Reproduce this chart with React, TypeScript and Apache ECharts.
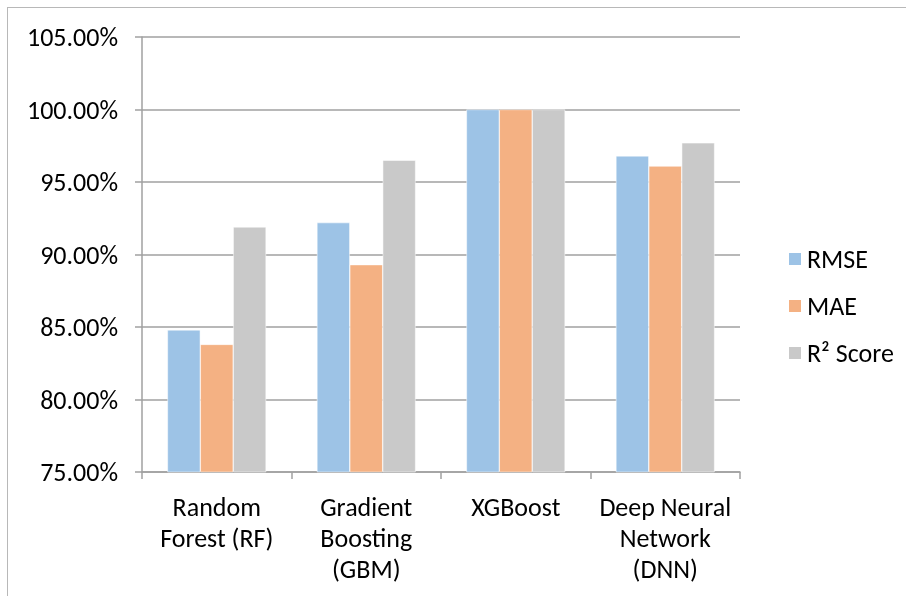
import React, { useEffect, useRef } from "react";
import * as echarts from "echarts";

const categories = ["Random\nForest (RF)", "Gradient\nBoosting\n(GBM)", "XGBoost", "Deep Neural\nNetwork\n(DNN)"];
const seriesNames = ["RMSE", "MAE", "R² Score"];
const rmse = [84.8, 92.2, 100.0, 96.8];
const mae = [83.8, 89.3, 100.0, 96.1];
const r2 = [91.9, 96.5, 100.0, 97.7];
const colors = ["#9dc3e6", "#f4b183", "#c9c9c9"];

const FONT = "Carlito, 'Liberation Sans Narrow', 'Open Sans', 'Noto Sans', sans-serif";

export default function App() {
  const ref = useRef<HTMLDivElement>(null);
  useEffect(() => {
    if (!ref.current) return;
    const chart = echarts.init(ref.current, undefined, { renderer: "svg" });
    const values = [rmse, mae, r2];
    chart.setOption({
      animation: false,
      backgroundColor: "transparent",
      textStyle: { fontFamily: FONT },
      grid: { left: 142, right: 166, top: 37, bottom: 124, containLabel: false },
      legend: {
        orient: "vertical",
        left: 782,
        top: 241,
        itemWidth: 14,
        itemHeight: 14,
        itemGap: 21,
        icon: "rect",
        textStyle: { fontFamily: FONT, fontSize: 26, lineHeight: 26, color: "#000", padding: [0, 0, 0, 0] },
        data: seriesNames,
      },
      xAxis: {
        type: "category",
        data: categories,
        axisLine: { show: true, lineStyle: { color: "#a0a0a0", width: 1.5 } },
        axisTick: { show: true, length: 7, lineStyle: { color: "#a0a0a0", width: 1.5 } },
        axisLabel: {
          fontFamily: FONT,
          fontSize: 26,
          color: "#000",
          margin: 19,
          lineHeight: 31,
          interval: 0,
        },
      },
      yAxis: {
        type: "value",
        min: 75,
        max: 105,
        interval: 5,
        axisLine: { show: true, lineStyle: { color: "#a0a0a0", width: 1.5 } },
        axisTick: { show: true, length: 7, lineStyle: { color: "#a0a0a0", width: 1.5 } },
        splitLine: { show: true, lineStyle: { color: "#a0a0a0", width: 1.5 } },
        axisLabel: {
          fontFamily: FONT,
          fontSize: 26,
          color: "#000",
          margin: 24,
          formatter: (v: number) => v.toFixed(2) + "%",
        },
      },
      series: seriesNames.map((name, i) => ({
        name,
        type: "bar",
        data: values[i],
        barGap: "0%",
        barCategoryGap: "34%",
        itemStyle: { color: colors[i], borderColor: "#ffffff", borderWidth: 0.5 },
      })),
    });
    return () => chart.dispose();
  }, []);
  return (
    <div>
      <div
        style={{
          position: "fixed",
          left: 7,
          top: 7,
          width: 1000,
          height: 700,
          border: "1.5px solid #b8b8b8",
          boxSizing: "border-box",
        }}
      />
      <div ref={ref} style={{ position: "fixed", left: 0, top: 0, width: 906, height: 596 }} />
    </div>
  );
}
